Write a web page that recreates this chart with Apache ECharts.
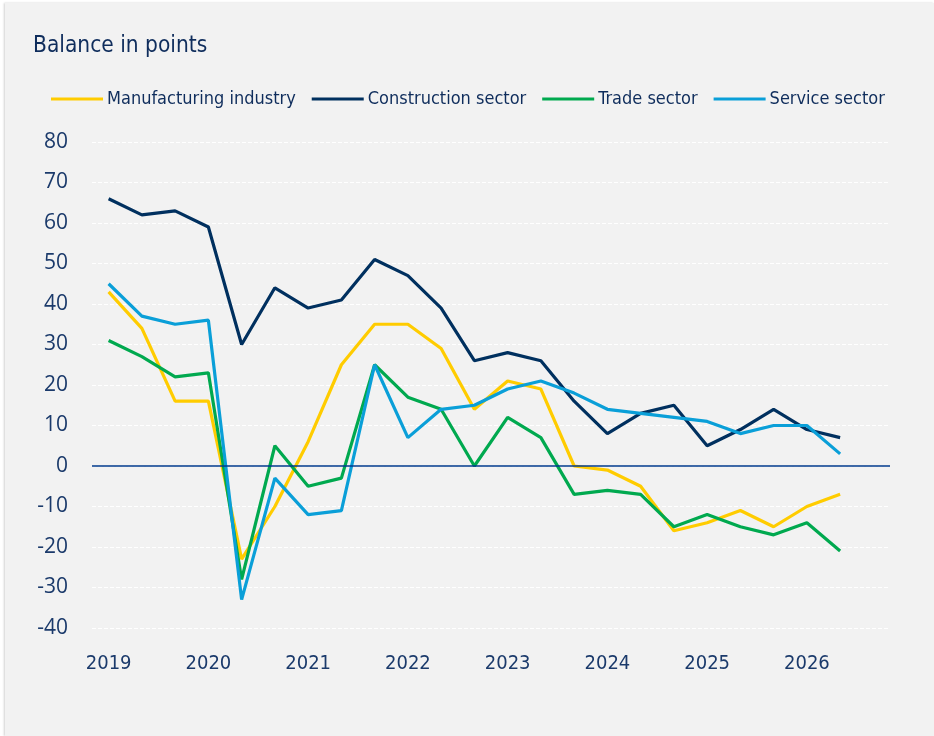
<!DOCTYPE html>
<html>
<head>
<meta charset="utf-8">
<script src="https://cdn.jsdelivr.net/npm/echarts@6/dist/echarts.min.js"></script>
<style>
  html, body { margin: 0; padding: 0; background: #ffffff; }
  #chart {
    position: absolute; left: 5px; top: 3px;
    width: 929px; height: 733px;
    background: #f2f2f2;
    box-shadow: -1px 0 2px rgba(0, 0, 0, 0.18);
  }
</style>
</head>
<body>
<div id="chart"></div>
<script>
  // three survey points per year, 2019 to early 2026 (last slot empty)
  var periods = ['2019', '', '', '2020', '', '', '2021', '', '', '2022', '', '',
                 '2023', '', '', '2024', '', '', '2025', '', '', '2026', '', ''];
  var manufacturing = [43, 34, 16, 16, -23, -10, 6, 25, 35, 35, 29, 14, 21, 19, 0, -1, -5, -16, -14, -11, -15, -10, -7];
  var construction = [66, 62, 63, 59, 30, 44, 39, 41, 51, 47, 39, 26, 28, 26, 16, 8, 13, 15, 5, 9, 14, 9, 7];
  var trade = [31, 27, 22, 23, -28, 5, -5, -3, 25, 17, 14, 0, 12, 7, -7, -6, -7, -15, -12, -15, -17, -14, -21];
  var service = [45, 37, 35, 36, -33, -3, -12, -11, 25, 7, 14, 15, 19, 21, 18, 14, 13, 12, 11, 8, 10, 10, 3];

  var navy = '#1b3a6b';
  var narrow = "'DejaVu Sans Condensed', 'Liberation Sans Narrow', 'Liberation Sans', sans-serif";

  function lineSeries(name, data, color) {
    return {
      name: name,
      type: 'line',
      data: data,
      symbol: 'none',
      lineStyle: { width: 3.2, color: color },
      itemStyle: { color: color }
    };
  }

  var series = [
    lineSeries('Manufacturing industry', manufacturing, '#ffcc00'),
    lineSeries('Construction sector', construction, '#00305f'),
    lineSeries('Trade sector', trade, '#00a94f'),
    lineSeries('Service sector', service, '#0a9fd8')
  ];
  // zero line
  series[0].markLine = {
    silent: true,
    symbol: 'none',
    label: { show: false },
    lineStyle: { color: '#003a8c', width: 1.5, type: 'solid' },
    data: [{ yAxis: 0 }]
  };

  var option = {
    animation: false,
    title: {
      text: 'Balance in points',
      left: 23,
      top: 27,
      textStyle: {
        fontFamily: narrow,
        fontWeight: 'normal',
        fontSize: 22.5,
        color: '#0f2d5c'
      }
    },
    legend: {
      left: 41,
      top: 82,
      icon: 'rect',
      itemWidth: 52,
      itemHeight: 3,
      itemGap: 16,
      textStyle: {
        fontFamily: narrow,
        fontSize: 18,
        color: '#0f2d5c',
        padding: [0, 0, 0, -1]
      },
      data: ['Manufacturing industry', 'Construction sector', 'Trade sector', 'Service sector']
    },
    grid: {
      left: 87,
      right: 44,
      top: 139,
      bottom: 108
    },
    xAxis: {
      type: 'category',
      data: periods,
      boundaryGap: true,
      axisLine: { show: false },
      axisTick: { show: false },
      axisLabel: {
        interval: 2,
        margin: 26,
        fontFamily: narrow,
        fontSize: 20,
        color: navy
      }
    },
    yAxis: {
      type: 'value',
      min: -40,
      max: 80,
      interval: 10,
      axisLine: { show: false },
      axisTick: { show: false },
      axisLabel: {
        margin: 24,
        fontFamily: 'Open Sans',
        fontSize: 21,
        color: navy
      },
      splitLine: {
        lineStyle: { color: '#ffffff', width: 1, type: [4, 2] }
      }
    },
    series: series
  };

  var chart = echarts.init(document.getElementById('chart'));
  chart.setOption(option);
</script>
</body>
</html>
